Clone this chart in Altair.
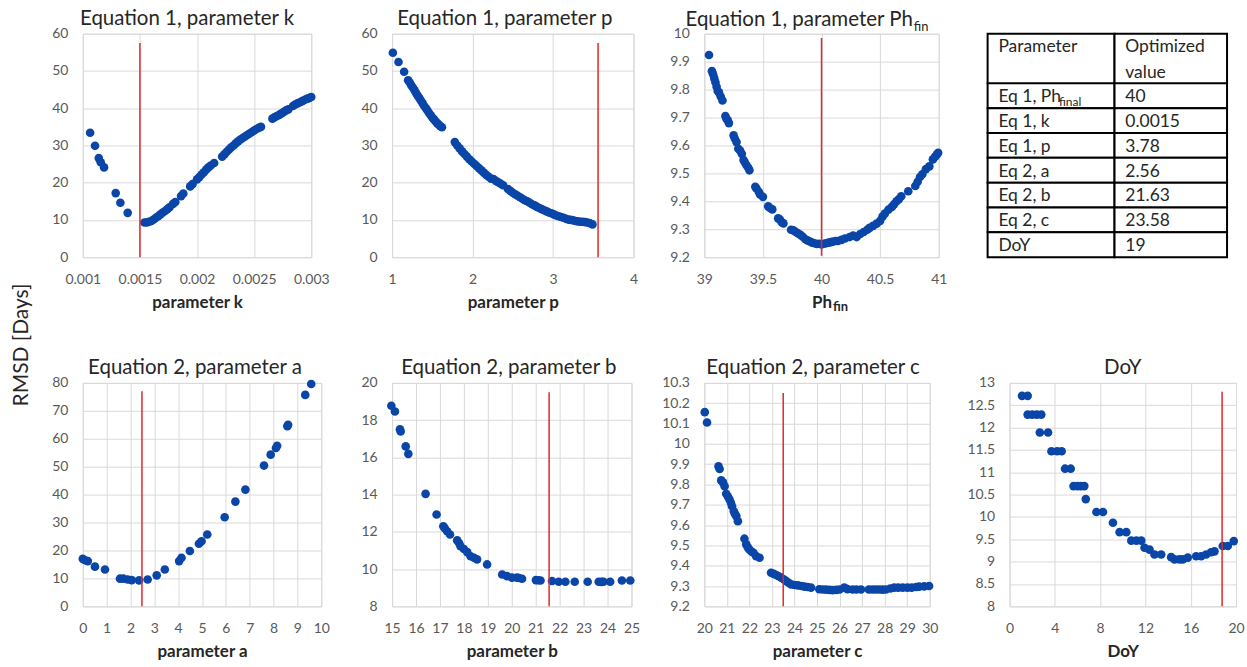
import altair as alt
import pandas as pd

DOT = "#0A46A8"
RED = "#E3262B"
GRID = "#D9D9D9"
LABEL = "#595959"
TEXT = "#262626"
FONT = "Lato"

# ---------------- data ----------------
# Equation 1, parameter k
K_X = [0.001064, 0.001107, 0.00114, 0.001157, 0.001186, 0.001288, 0.001329, 0.001393,
       0.00154, 0.00156, 0.00158, 0.00160, 0.00162, 0.00164, 0.00166, 0.00168, 0.00170,
       0.00172, 0.00174, 0.00176, 0.00179, 0.00181, 0.00186, 0.00188, 0.00194, 0.00196,
       0.00200, 0.00202, 0.00204, 0.00206, 0.00208, 0.00210, 0.00212, 0.00215, 0.00222,
       0.00224, 0.00226, 0.00228, 0.00230, 0.00232, 0.00234, 0.00236, 0.00238, 0.00240,
       0.00242, 0.00244, 0.00246, 0.00248, 0.00250, 0.00252, 0.00254, 0.00256, 0.00266,
       0.00268, 0.00270, 0.00272, 0.00274, 0.00276, 0.00278, 0.00280, 0.00284, 0.00286,
       0.00288, 0.00290, 0.00292, 0.00294, 0.00296, 0.00298, 0.00300]
K_Y = [33.4, 29.9, 26.6, 25.5, 24.1, 17.2, 14.6, 11.9,
       9.3, 9.3, 9.5, 9.7, 10.1, 10.6, 11.0, 11.5, 12.0,
       12.4, 12.9, 13.4, 14.3, 14.8, 16.4, 17.1, 19.0, 19.6,
       20.9, 21.5, 22.2, 22.8, 23.5, 24.1, 24.6, 25.3, 27.0,
       27.6, 28.3, 28.9, 29.5, 30.0, 30.6, 31.1, 31.6, 32.0,
       32.4, 32.8, 33.2, 33.6, 34.0, 34.4, 34.7, 35.0, 37.2,
       37.6, 37.9, 38.2, 38.6, 39.0, 39.4, 39.7, 40.6, 41.0,
       41.3, 41.6, 41.9, 42.2, 42.5, 42.7, 43.0]
K_RULE = [0.0015, 57.5, 0]

# Equation 1, parameter p
P_X = [1.01, 1.08, 1.15, 1.20, 1.22, 1.24, 1.26, 1.28, 1.30, 1.32, 1.34, 1.36, 1.38, 1.40,
       1.42, 1.44, 1.46, 1.48, 1.50, 1.52, 1.54, 1.56, 1.58, 1.60, 1.62,
       1.78, 1.81, 1.84, 1.87, 1.90, 1.93, 1.96, 1.99, 2.02, 2.05, 2.08, 2.11, 2.14, 2.17,
       2.20, 2.23, 2.26, 2.29, 2.32, 2.35, 2.38, 2.44, 2.47, 2.50, 2.53, 2.56, 2.59, 2.62,
       2.65, 2.68, 2.71, 2.74, 2.77, 2.80, 2.83, 2.86, 2.89, 2.92, 2.95, 2.98, 3.01, 3.04,
       3.07, 3.10, 3.13, 3.16, 3.19, 3.22, 3.25, 3.28, 3.31, 3.34, 3.37, 3.40, 3.43, 3.46, 3.49]
P_Y = [54.9, 52.4, 49.8, 47.5, 46.9, 46.1, 45.5, 44.8, 44.0, 43.3, 42.7, 42.0, 41.3, 40.6,
       40.0, 39.4, 38.7, 38.1, 37.5, 37.0, 36.5, 36.0, 35.6, 35.2, 34.9,
       30.9, 30.0, 29.2, 28.4, 27.7, 27.0, 26.3, 25.7, 25.1, 24.5, 23.9, 23.3, 22.7, 22.1,
       21.6, 21.1, 21.0, 20.5, 20.1, 19.7, 19.3, 18.3, 17.8, 17.3, 16.9, 16.5, 16.1, 15.7,
       15.3, 15.0, 14.6, 14.2, 13.9, 13.5, 13.2, 12.9, 12.6, 12.3, 12.0, 11.8, 11.5, 11.2,
       11.0, 10.8, 10.6, 10.3, 10.1, 10.0, 9.9, 9.7, 9.6, 9.5, 9.5, 9.4, 9.3, 9.1, 8.8]
P_RULE = [3.56, 57.5, 0]

# Equation 1, parameter Ph_fin
PH_X = [39.04, 39.065, 39.075, 39.085, 39.095, 39.105, 39.115, 39.125, 39.14, 39.155, 39.18,
        39.19, 39.2, 39.21, 39.25, 39.26, 39.275, 39.29, 39.305, 39.32, 39.335, 39.345,
        39.36, 39.375, 39.385, 39.435, 39.445, 39.465, 39.475, 39.5, 39.545, 39.56, 39.58,
        39.63, 39.645, 39.66, 39.675, 39.74, 39.76, 39.78, 39.8, 39.82, 39.84, 39.86, 39.88,
        39.9, 39.92, 39.94, 39.96, 39.98, 40.0, 40.02, 40.04, 40.06, 40.08, 40.1, 40.12,
        40.14, 40.17, 40.2, 40.24, 40.27, 40.3, 40.33, 40.36, 40.39, 40.41, 40.44, 40.47,
        40.5, 40.52, 40.54, 40.57, 40.6, 40.62, 40.64, 40.66, 40.68, 40.74, 40.8, 40.82,
        40.84, 40.86, 40.89, 40.92, 40.95, 40.97, 40.985, 40.995]
PH_Y = [9.924, 9.866, 9.855, 9.84, 9.826, 9.81, 9.795, 9.79, 9.775, 9.761, 9.705,
        9.695, 9.69, 9.68, 9.636, 9.625, 9.612, 9.588, 9.582, 9.57, 9.548, 9.54,
        9.529, 9.52, 9.511, 9.452, 9.446, 9.434, 9.425, 9.416, 9.382, 9.376, 9.371,
        9.339, 9.335, 9.325, 9.321, 9.298, 9.296, 9.29, 9.285, 9.28, 9.273, 9.265, 9.26,
        9.256, 9.252, 9.25, 9.247, 9.248, 9.246, 9.248, 9.25, 9.252, 9.254, 9.256, 9.258,
        9.258, 9.262, 9.267, 9.272, 9.277, 9.272, 9.283, 9.29, 9.298, 9.305, 9.312, 9.32,
        9.33, 9.345, 9.356, 9.37, 9.38, 9.39, 9.4, 9.408, 9.418, 9.436, 9.455, 9.47,
        9.487, 9.497, 9.515, 9.525, 9.55, 9.56, 9.568, 9.574]
PH_RULE = [40.0, 9.985, 9.205]

# Equation 2, parameter a
A_X = [0.0, 0.1, 0.21, 0.51, 0.93, 1.56, 1.70, 1.88, 2.05, 2.36, 2.72, 3.10, 3.44, 4.04,
       4.14, 4.49, 4.87, 4.98, 5.22, 5.95, 6.40, 6.82, 7.60, 7.88, 8.10, 8.15, 8.58, 8.61,
       9.33, 9.58]
A_Y = [17.0, 16.5, 16.2, 14.2, 13.2, 9.9, 9.9, 9.6, 9.4, 9.3, 9.6, 11.1, 13.2, 16.2,
       17.4, 19.8, 22.4, 23.3, 25.7, 31.9, 37.5, 41.8, 50.4, 54.3, 56.7, 57.5, 64.5, 65.0,
       75.7, 79.6]
A_RULE = [2.48, 77.0, 0]

# Equation 2, parameter b
B_X = [14.97, 15.12, 15.33, 15.36, 15.57, 15.68, 16.40, 16.86, 17.14, 17.20, 17.30, 17.42,
       17.72, 17.80, 17.86, 18.00, 18.14, 18.28, 18.42, 18.55, 18.97, 19.60, 19.80, 20.01,
       20.22, 20.30, 20.43, 21.01, 21.10, 21.20, 21.68, 21.96, 22.24, 22.63, 23.17, 23.63,
       23.75, 23.83, 24.11, 24.60, 24.95]
B_Y = [18.77, 18.46, 17.51, 17.39, 16.59, 16.19, 14.04, 12.93, 12.30, 12.20, 12.03, 11.86,
       11.54, 11.40, 11.23, 11.08, 10.91, 10.69, 10.61, 10.52, 10.25, 9.71, 9.62, 9.54,
       9.54, 9.52, 9.48, 9.41, 9.40, 9.39, 9.36, 9.32, 9.32, 9.32, 9.32, 9.32,
       9.31, 9.32, 9.32, 9.39, 9.39]
B_RULE = [21.56, 19.5, 8]

# Equation 2, parameter c
C_X = [20.02, 20.12, 20.63, 20.68, 20.75, 20.83, 20.9, 20.97, 21.05, 21.12, 21.18, 21.23,
       21.31, 21.36, 21.42, 21.49, 21.78, 21.86, 21.93, 22.0, 22.09, 22.18, 22.3, 22.45,
       22.96, 23.08, 23.19, 23.3, 23.41, 23.52, 23.63, 23.74, 23.85, 24.0, 24.15, 24.3,
       24.44, 24.58, 24.73, 25.1, 25.25, 25.4, 25.55, 25.69, 25.85, 26.0, 26.21, 26.35,
       26.58, 26.75, 26.95, 27.3, 27.46, 27.6, 27.75, 27.9, 28.05, 28.25, 28.42, 28.6,
       28.8, 29.01, 29.2, 29.4, 29.53, 29.75, 29.97]
C_Y = [10.156, 10.105, 9.889, 9.876, 9.82, 9.81, 9.791, 9.754, 9.74, 9.726, 9.71, 9.693,
       9.668, 9.655, 9.644, 9.619, 9.533, 9.505, 9.49, 9.48, 9.47, 9.464, 9.447, 9.439,
       9.365, 9.36, 9.354, 9.348, 9.341, 9.333, 9.324, 9.316, 9.308, 9.305, 9.303, 9.3,
       9.297, 9.295, 9.292, 9.284, 9.283, 9.282, 9.281, 9.28, 9.281, 9.283, 9.292, 9.285,
       9.283, 9.283, 9.283, 9.283, 9.283, 9.283, 9.283, 9.282, 9.283, 9.288, 9.292, 9.292,
       9.292, 9.292, 9.292, 9.295, 9.297, 9.298, 9.3]
C_RULE = [23.5, 10.25, 9.2]

# DoY
D_X = [1.1, 1.6, 1.6, 2.0, 2.4, 2.8, 2.67, 3.4, 3.7, 4.2, 4.6, 4.9, 5.4, 5.65, 6.0, 6.3,
       6.6, 6.73, 7.67, 8.25, 9.13, 9.72, 10.31, 10.75, 11.2, 11.63, 11.92, 12.36, 12.8,
       13.39, 14.27, 14.57, 15.0, 15.3, 15.74, 16.48, 16.92, 17.36, 17.8, 18.1, 18.83,
       19.27, 19.8]
D_Y = [12.71, 12.71, 12.29, 12.29, 12.29, 12.29, 11.89, 11.89, 11.47, 11.47, 11.47, 11.08,
       11.08, 10.69, 10.69, 10.69, 10.69, 10.40, 10.11, 10.11, 9.87, 9.66, 9.66, 9.47,
       9.47, 9.47, 9.31, 9.27, 9.16, 9.16, 9.10, 9.05, 9.05, 9.05, 9.09, 9.12, 9.12, 9.16,
       9.21, 9.23, 9.35, 9.35, 9.46]
D_RULE = [18.77, 12.8, 8]

# Table
TABLE_PARAM = ["Parameter", "Eq 1, Ph", "Eq 1, k", "Eq 1, p", "Eq 2, a", "Eq 2, b",
               "Eq 2, c", "DoY"]
TABLE_VALUE = ["Optimized|value", "40", "0.0015", "3.78", "2.56", "21.63", "23.58", "19"]
TABLE_ROWSPAN = [2, 1, 1, 1, 1, 1, 1, 1]

LABEL_EXPR = "'' + datum.value"


# ---------------- helpers ----------------
def text_mark(txt, px, py, size, align="left", weight="normal", angle=0):
    return alt.Chart(pd.DataFrame({"t": [txt]})).mark_text(
        align=align, baseline="middle", fontSize=size, color=TEXT, font=FONT,
        fontWeight=weight, angle=angle
    ).encode(x=alt.value(px), y=alt.value(py), text="t:N")


def panel(xs, ys, rule, title, xtitle, xdom, xticks, ydom, yticks, w, h,
          title_dx=0, extra=None):
    pts_df = pd.DataFrame({"x": xs, "y": ys})
    rule_df = pd.DataFrame({"x": [rule[0]], "y": [rule[1]], "y2": [rule[2]]})
    xaxis = alt.Axis(values=xticks, labelExpr=LABEL_EXPR, title=xtitle, labelFlush=False,
                     labelOverlap=False, grid=True)
    yaxis = alt.Axis(values=yticks, labelExpr=LABEL_EXPR, labelFlush=False,
                     labelOverlap=False, title=None)
    xsc = alt.Scale(domain=xdom, nice=False, zero=False)
    ysc = alt.Scale(domain=ydom, nice=False, zero=False)
    pts = alt.Chart(pts_df).mark_circle(size=75, color=DOT, opacity=1).encode(
        x=alt.X("x:Q", scale=xsc, axis=xaxis),
        y=alt.Y("y:Q", scale=ysc, axis=yaxis),
    )
    rl = alt.Chart(rule_df).mark_rule(color=RED, strokeWidth=1.5).encode(
        x=alt.X("x:Q", scale=xsc, axis=xaxis),
        y=alt.Y("y:Q", scale=ysc, axis=yaxis),
        y2="y2:Q",
    )
    layers = [pts, rl]
    if extra:
        layers += extra
    props = dict(width=w, height=h)
    if title:
        props["title"] = alt.TitleParams(title, dx=title_dx, frame="group")
    return alt.layer(*layers).properties(**props)


H = 224

p1 = panel(K_X, K_Y, K_RULE, "Equation 1, parameter k", "parameter k",
           [0.001, 0.003], [0.001, 0.0015, 0.002, 0.0025, 0.003],
           [0, 60], [0, 10, 20, 30, 40, 50, 60], 229, H, title_dx=-10,
           extra=[text_mark("RMSD [Days]", -61, 312, 21, align="center", angle=270)])
p2 = panel(P_X, P_Y, P_RULE, "Equation 1, parameter p", "parameter p",
           [1, 4], [1, 2, 3, 4], [0, 60], [0, 10, 20, 30, 40, 50, 60], 242, H, title_dx=-8)
p3 = panel(PH_X, PH_Y, PH_RULE, None, "Ph",
           [39, 41], [39, 39.5, 40, 40.5, 41],
           [9.2, 10], [9.2, 9.3, 9.4, 9.5, 9.6, 9.7, 9.8, 9.9, 10], 235, H,
           extra=[text_mark("Equation 1, parameter Ph", 209, -14, 20.5, align="right"),
                  text_mark("fin", 210, -7, 13),
                  text_mark("fin", 129, 274, 13, weight="bold")])

# table (x scale domain starts inside the table so its left border sits
# left of the grid column, as in the reference)
rows = []
start = 0
for pn, pv, span in zip(TABLE_PARAM, TABLE_VALUE, TABLE_ROWSPAN):
    rows.append({"c0": 0.0, "c1": 0.53, "r0": start, "r1": start + span})
    rows.append({"c0": 0.53, "c1": 1.0, "r0": start, "r1": start + span})
    start += span
cells = pd.DataFrame(rows)
texts = []
start = 0
for pn, pv, span in zip(TABLE_PARAM, TABLE_VALUE, TABLE_ROWSPAN):
    for j, line in enumerate(pn.split("|")):
        texts.append({"x": 0.045, "y": start + 0.55 + j * 1.05, "t": line})
    for j, line in enumerate(pv.split("|")):
        texts.append({"x": 0.575, "y": start + 0.55 + j * 1.05, "t": line})
    start += span
texts = pd.DataFrame(texts)
tx = alt.Scale(domain=[0.0917, 1], nice=False, zero=False)
ty = alt.Scale(domain=[0, sum(TABLE_ROWSPAN)], nice=False, zero=False, reverse=True)
cell_layer = alt.Chart(cells).mark_rect(fill="white", stroke="black", strokeWidth=2).encode(
    x=alt.X("c0:Q", scale=tx, axis=None), x2="c1:Q",
    y=alt.Y("r0:Q", scale=ty, axis=None), y2="r1:Q")
text_layer = alt.Chart(texts).mark_text(
    align="left", baseline="middle", fontSize=17.5, color=TEXT, font=FONT).encode(
    x=alt.X("x:Q", scale=tx, axis=None), y=alt.Y("y:Q", scale=ty, axis=None), text="t:N")
sub_layer = alt.Chart(pd.DataFrame({"x": [0.298], "y": [2.75], "t": ["final"]})).mark_text(
    align="left", baseline="middle", fontSize=12, color=TEXT, font=FONT).encode(
    x=alt.X("x:Q", scale=tx, axis=None), y=alt.Y("y:Q", scale=ty, axis=None), text="t:N")
table = alt.layer(cell_layer, text_layer, sub_layer).properties(
    width=218, height=H, view=alt.ViewBackground(strokeOpacity=0))

p4 = panel(A_X, A_Y, A_RULE, "Equation 2, parameter a", "parameter a",
           [0, 10], list(range(0, 11)), [0, 80], [0, 10, 20, 30, 40, 50, 60, 70, 80],
           239, H, title_dx=-7)
p5 = panel(B_X, B_Y, B_RULE, "Equation 2, parameter b", "parameter b",
           [15, 25], list(range(15, 26)), [8, 20], [8, 10, 12, 14, 16, 18, 20], 240, H,
           title_dx=-3)
p6 = panel(C_X, C_Y, C_RULE, "Equation 2, parameter c", "parameter c",
           [20, 30], list(range(20, 31)), [9.2, 10.3],
           [9.2, 9.3, 9.4, 9.5, 9.6, 9.7, 9.8, 9.9, 10, 10.1, 10.2, 10.3], 226, H,
           title_dx=-4)
p7 = panel(D_X, D_Y, D_RULE, "DoY", "DoY",
           [0, 20], [0, 4, 8, 12, 16, 20], [8, 13],
           [8, 8.5, 9, 9.5, 10, 10.5, 11, 11.5, 12, 12.5, 13], 227, H)

chart = alt.concat(
    p1, p2, p3, table, p4, p5, p6, p7,
    columns=4, spacing=alt.RowColnumber(row=126, column=71),
    bounds="flush", align="each",
).properties(
    padding={"left": 10, "top": 8, "right": 2, "bottom": 2}
).configure(font=FONT).configure_view(stroke=GRID).configure_axis(
    gridColor=GRID, gridWidth=1, domain=False, ticks=False, labelColor=LABEL,
    labelFontSize=14, labelFont=FONT, titleColor=TEXT, titleFont=FONT
).configure_axisX(labelPadding=15, titlePadding=8, titleFontSize=17,
                  titleFontWeight="bold").configure_axisY(
    labelPadding=15
).configure_title(font=FONT, fontSize=20.5, color=TEXT, fontWeight="normal",
                  anchor="middle", offset=-3)

chart.save("out.html", embed_options={"renderer": "svg", "actions": False})
